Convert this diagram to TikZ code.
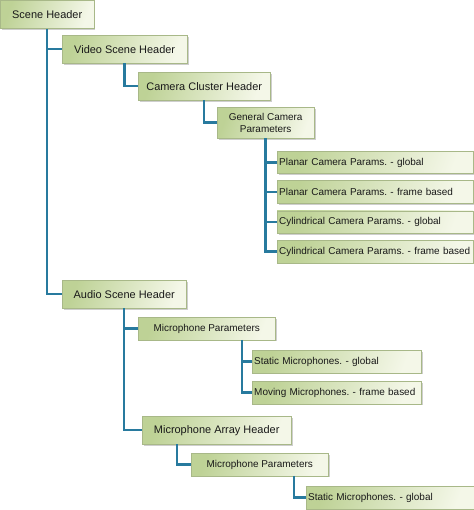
\documentclass[tikz,border=0pt]{standalone}
\usepackage{fontspec}
\setmainfont{Liberation Sans}
\usetikzlibrary{shadows}
\frenchspacing

\definecolor{boxdark}{RGB}{190,210,150}
\definecolor{boxlight}{RGB}{244,247,232}
\definecolor{boxedge}{RGB}{168,184,136}
\definecolor{linkblue}{RGB}{40,122,158}
\definecolor{txt}{RGB}{25,25,25}

\tikzset{
  box/.style={draw=boxedge, line width=0.4bp, left color=boxdark, right color=boxlight,
              shading angle=70, anchor=north west, text=txt, inner xsep=2bp, inner ysep=0pt,
              drop shadow={shadow xshift=1.5bp, shadow yshift=-1.5bp, fill=black!35, opacity=.55}},
  hdr/.style={box, minimum height=28bp, font=\fontsize{11}{13}\selectfont},
  prm/.style={box, minimum height=22.5bp, font=\fontsize{10}{12}\selectfont, align=center},
  leaf/.style={prm, text width=#1, align=left},
  link/.style={draw=linkblue, line width=2.5bp}
}

\begin{document}
\begin{tikzpicture}[x=1bp, y=-1bp]

  \path[use as bounding box] (0,0) rectangle (474,510);

  \node[hdr]  (scene)   [minimum width=93bp]  at (0.5,0.5)  {Scene Header};
  \node[hdr]  (video)   [minimum width=125bp] at (62,35)   {Video Scene Header};
  \node[hdr]  (camera)  [minimum width=132bp] at (138,72)  {Camera Cluster Header};
  \node[prm]  (general) [minimum width=97bp, minimum height=31bp] at (217,107) {General Camera\\Parameters};
  \node[leaf=192bp] (planarg) at (277,151)   {Planar Camera Params. - global};
  \node[leaf=192bp] (planarf) at (277,180.5) {Planar Camera Params. - frame based};
  \node[leaf=192bp] (cylg)    at (277,210.5) {Cylindrical Camera Params. - global};
  \node[leaf=192bp] (cylf)    at (277,240)   {Cylindrical Camera Params. - frame based};

  \node[hdr]  (audio)   [minimum width=124bp] at (62,280)  {Audio Scene Header};
  \node[prm]  (micpar)  [minimum width=137bp] at (138,317) {Microphone Parameters};
  \node[leaf=165bp] (statmic) at (252,350) {Static Microphones. - global};
  \node[leaf=165bp] (movmic)  at (252,381) {Moving Microphones. - frame based};
  \node[hdr]  (micarr)  [minimum width=149bp] at (142,416) {Microphone Array Header};
  \node[prm]  (arrpar)  [minimum width=137bp] at (191,453) {Microphone Parameters};
  \node[leaf=164bp] (arrstat) at (306,486) {Static Microphones. - global};

  \path[link] (scene.south)   |- (video.west)
              (scene.south)   |- (audio.west)
              (video.south)   |- (camera.west)
              (camera.south)  |- (general.west)
              (general.south) |- (planarg.west)
              (general.south) |- (planarf.west)
              (general.south) |- (cylg.west)
              (general.south) |- (cylf.west)
              (audio.south)   |- (micpar.west)
              (audio.south)   |- (micarr.west)
              ([xshift=-10bp]statmic.west |- micpar.south) |- (statmic.west)
              ([xshift=-10bp]statmic.west |- micpar.south) |- (movmic.west)
              ([xshift=-14bp]arrpar.west |- micarr.south)  |- (arrpar.west)
              ([xshift=-12bp]arrstat.west |- arrpar.south) |- (arrstat.west);
\end{tikzpicture}
\end{document}
